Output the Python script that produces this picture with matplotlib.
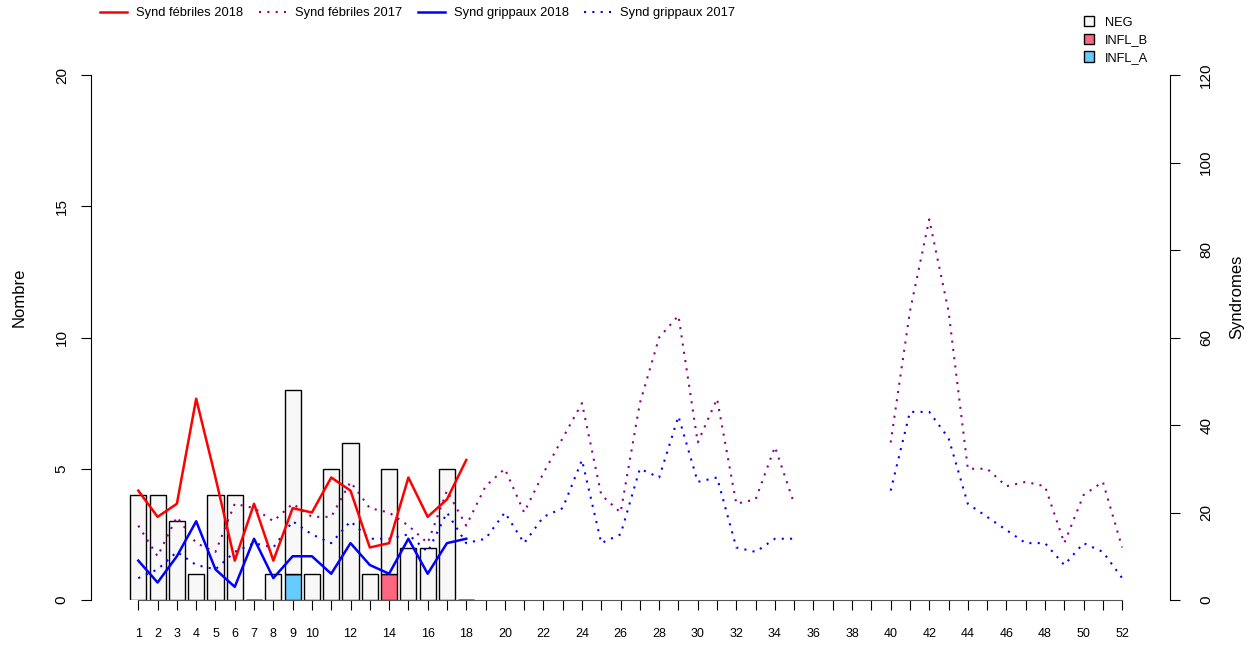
import numpy as np
import matplotlib
matplotlib.use("Agg")
import matplotlib.pyplot as plt
from matplotlib.lines import Line2D
from matplotlib.patches import Patch

plt.rcParams['font.family'] = ['Liberation Sans', 'DejaVu Sans']

nan = np.nan
weeks = np.arange(1, 53)
weeks_2018 = np.arange(1, 19)

# prélèvements (barres, axe de gauche)
neg = [4, 4, 3, 1, 4, 4, 0, 1, 7, 1, 5, 6, 1, 4, 2, 2, 5, 0]
infl_b = [0, 0, 0, 0, 0, 0, 0, 0, 0, 0, 0, 0, 0, 1, 0, 0, 0, 0]
infl_a = [0, 0, 0, 0, 0, 0, 0, 0, 1, 0, 0, 0, 0, 0, 0, 0, 0, 0]

# syndromes (courbes, axe de droite)
febriles_2018 = [25, 19, 22, 46, 28, 9, 22, 9, 21, 20, 28, 25, 12, 13, 28, 19, 23, 32]
grippaux_2018 = [9, 4, 10, 18, 7, 3, 14, 5, 10, 10, 6, 13, 8, 6, 14, 6, 13, 14]
febriles_2017 = [17, 10, 19, 13, 11, 22, 21, 18, 22, 19, 19, 27, 21, 20, 17, 13, 25, 17,
                 26, 30, 20, 29, 37, 45, 24, 20, 45, 60, 65, 36, 46, 22, 23, 35, 22,
                 nan, nan, nan, nan,
                 36, 66, 87, 66, 30, 30, 26, 27, 26, 13, 24, 27, 12]
grippaux_2017 = [5, 7, 11, 8, 7, 11, 13, 12, 18, 15, 13, 18, 14, 14, 15, 11, 20, 13,
                 14, 20, 13, 19, 21, 32, 13, 15, 30, 28, 42, 27, 28, 12, 11, 14, 14,
                 nan, nan, nan, nan,
                 25, 43, 43, 37, 22, 19, 16, 13, 13, 8, 13, 11, 5]

W, H = 1253, 645
fig = plt.figure(figsize=(W / 100, H / 100), dpi=100)
ax = fig.add_axes([91 / W, 45 / H, (1170 - 91) / W, 525 / H])
ax.set_xlim(-1.452, 54.48)
ax.set_ylim(0, 20)

# barres empilées
bw = 1 / 1.2
a = np.array(infl_a)
b = np.array(infl_b)
n = np.array(neg)
ax.bar(weeks_2018, a, bw, color='#66CCFF', edgecolor='black', linewidth=1)
ax.bar(weeks_2018, b, bw, bottom=a, color='#FF6680', edgecolor='black', linewidth=1)
ax.bar(weeks_2018, n, bw, bottom=a + b, color='#F8F8F8', edgecolor='black', linewidth=1)

ax2 = ax.twinx()
ax2.set_ylim(0, 120)
dots = (0, (1, 3))
ax2.plot(weeks, febriles_2017, color='#8B008B', lw=1.5, linestyle=dots)
ax2.plot(weeks, grippaux_2017, color='blue', lw=1.5, linestyle=dots)
ax2.plot(weeks_2018, febriles_2018, color='red', lw=1.8)
ax2.plot(weeks_2018, grippaux_2018, color='blue', lw=1.8)

# axes façon R
for s in ['top', 'right']:
    ax.spines[s].set_visible(False)
for s in ['top', 'bottom', 'left']:
    ax2.spines[s].set_visible(False)
ax.spines['bottom'].set_bounds(1, 52)
ax.spines['bottom'].set_color('#555555')

ax.set_xticks(weeks)
ax.set_xticklabels([str(w) if (w <= 10 or w % 2 == 0) else '' for w in weeks])
ax.tick_params(axis='x', length=7, pad=13, labelsize=9)

ax.set_yticks([0, 5, 10, 15, 20])
ax.tick_params(axis='y', length=7, pad=9, labelsize=11, labelrotation=90)
for t in ax.get_yticklabels():
    t.set_va('center')
ax2.set_yticks([0, 20, 40, 60, 80, 100, 120])
ax2.tick_params(axis='y', length=7, pad=14, labelsize=11, labelrotation=90)
for t in ax2.get_yticklabels():
    t.set_va('center')

ax.set_ylabel('Nombre', fontsize=12)
ax.yaxis.set_label_coords(-0.060, 0.577)
ax2.set_ylabel('Syndromes', fontsize=12)
ax2.yaxis.set_label_coords(1.055, 0.577)

# légendes
h1 = [Line2D([], [], color='red', lw=1.8),
      Line2D([], [], color='#8B008B', lw=1.5, linestyle=dots),
      Line2D([], [], color='blue', lw=1.8),
      Line2D([], [], color='blue', lw=1.5, linestyle=dots)]
fig.legend(h1, ['Synd fébriles 2018', 'Synd fébriles 2017', 'Synd grippaux 2018', 'Synd grippaux 2017'],
           loc='center left', bbox_to_anchor=(100 / W, 1 - 13 / H), ncol=4, frameon=False,
           fontsize=9.3, handlelength=2.1, handletextpad=0.7, columnspacing=1.2,
           borderpad=0, borderaxespad=0)

h2 = [Patch(facecolor='#F8F8F8', edgecolor='black'),
      Patch(facecolor='#FF6680', edgecolor='black'),
      Patch(facecolor='#66CCFF', edgecolor='black')]
fig.legend(h2, ['NEG', 'INFL_B', 'INFL_A'], loc='center left',
           bbox_to_anchor=(1084 / W, 1 - 40 / H), frameon=False, fontsize=9.3,
           handlelength=0.8, handleheight=0.85, handletextpad=0.85, labelspacing=0.38,
           borderpad=0, borderaxespad=0)

fig.savefig('out.png', dpi=100)
